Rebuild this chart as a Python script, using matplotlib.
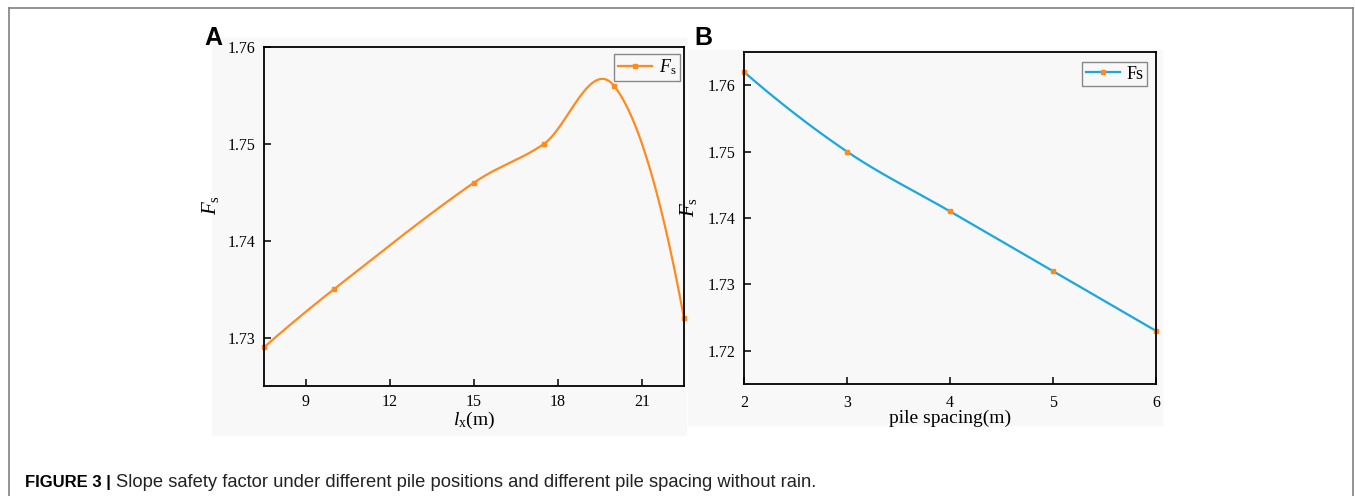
import numpy as np
import matplotlib.pyplot as plt
from matplotlib.patches import Rectangle
from matplotlib.lines import Line2D

# pile position l_x (m) vs safety factor
lx = [7.5, 10, 15, 17.5, 20, 22.5]
fs_lx = [1.729, 1.735, 1.746, 1.750, 1.756, 1.732]

# pile spacing (m) vs safety factor
spacing = [2, 3, 4, 5, 6]
fs_sp = [1.762, 1.750, 1.741, 1.732, 1.723]

caption_bold = 'FIGURE 3 |'
caption_text = 'Slope safety factor under different pile positions and different pile spacing without rain.'


def smooth_curve(x, y, n=400):
    # cubic hermite curve through the points (catmull-rom style slopes)
    x = np.asarray(x, float)
    y = np.asarray(y, float)
    sec = np.diff(y) / np.diff(x)
    m = np.zeros(len(x))
    m[1:-1] = (y[2:] - y[:-2]) / (x[2:] - x[:-2])
    m[0] = 2 * sec[0] - m[1]
    m[-1] = 2 * sec[-1] - m[-2]
    xs = np.linspace(x[0], x[-1], n)
    i = np.clip(np.searchsorted(x, xs) - 1, 0, len(x) - 2)
    h = x[i + 1] - x[i]
    t = (xs - x[i]) / h
    h00 = 2 * t ** 3 - 3 * t ** 2 + 1
    h10 = t ** 3 - 2 * t ** 2 + t
    h01 = -2 * t ** 3 + 3 * t ** 2
    h11 = t ** 3 - t ** 2
    ys = h00 * y[i] + h10 * h * m[i] + h01 * y[i + 1] + h11 * h * m[i + 1]
    return xs, ys


plt.rcParams['font.family'] = 'Liberation Serif'
plt.rcParams['mathtext.fontset'] = 'custom'
plt.rcParams['mathtext.rm'] = 'Liberation Serif'
plt.rcParams['mathtext.it'] = 'Liberation Serif:italic'

W, H = 1355, 496
fig = plt.figure(figsize=(W / 100, H / 100), dpi=100)

# outer frame of the figure box
frame_kw = dict(color='#808080', lw=1.2, transform=fig.transFigure)
fig.add_artist(Line2D([9 / W, 9 / W], [0, 1 - 8 / H], **frame_kw))
fig.add_artist(Line2D([9 / W, 1353 / W], [1 - 8 / H, 1 - 8 / H], **frame_kw))
fig.add_artist(Line2D([1353 / W, 1353 / W], [0, 1 - 8 / H], **frame_kw))

# light gray panel backgrounds
fig.add_artist(Rectangle((212 / W, 1 - 435 / H), 474 / W, 397 / H,
                         transform=fig.transFigure, color='#f8f8f8', zorder=0))
fig.add_artist(Rectangle((688 / W, 1 - 425 / H), 474 / W, 375 / H,
                         transform=fig.transFigure, color='#f8f8f8', zorder=0))

orange = '#ff8b1f'
blue = '#1aa7e0'
leg_kw = dict(loc='upper right', fontsize=13, handlelength=1.9, fancybox=False,
              edgecolor='#888888', framealpha=1, facecolor='#f8f8f8',
              borderpad=0.2, borderaxespad=0, handletextpad=0.35)


def style_axes(ax):
    ax.set_facecolor('#f8f8f8')
    for s in ax.spines.values():
        s.set_linewidth(1.3)
    ax.tick_params(direction='in', length=5, width=1.1, labelsize=11.5, pad=6)


# panel A
axA = fig.add_axes([264 / W, 1 - 386 / H, 420 / W, 339 / H])
style_axes(axA)
xs, ys = smooth_curve(lx, fs_lx)
axA.plot(xs, ys, color=orange, lw=1.6)
axA.plot(lx, fs_lx, 's', color=orange, ms=3.5, clip_on=False)
axA.plot([], [], '-s', color=orange, lw=1.6, ms=3.5, label=r'$F_{\mathrm{s}}$')
axA.set_xlim(7.5, 22.5)
axA.set_ylim(1.725, 1.76)
axA.set_xticks([9, 12, 15, 18, 21])
axA.set_yticks([1.73, 1.74, 1.75, 1.76])
axA.set_yticklabels(['1.73', '1.74', '1.75', '1.76'])
axA.set_xlabel(r'$l_{\mathrm{x}}$(m)', fontsize=14, labelpad=0)
axA.set_ylabel(r'$F_{\mathrm{s}}$', fontsize=15)
axA.yaxis.set_label_coords(-0.102, 0.534)
legA = axA.legend(bbox_to_anchor=(0.990, 0.979), **leg_kw)
legA.get_frame().set_linewidth(1.0)

# panel B
axB = fig.add_axes([744 / W, 1 - 384 / H, 412 / W, 332 / H])
style_axes(axB)
xs, ys = smooth_curve(spacing, fs_sp)
axB.plot(xs, ys, color=blue, lw=1.6)
axB.plot(spacing, fs_sp, 's', color=orange, ms=3.5, clip_on=False)
axB.plot([], [], '-s', color=blue, mfc=orange, mec=orange, lw=1.6, ms=3.5, label='Fs')
axB.set_xlim(2, 6)
axB.set_ylim(1.715, 1.765)
axB.set_xticks([2, 3, 4, 5, 6])
axB.set_yticks([1.72, 1.73, 1.74, 1.75, 1.76])
axB.set_yticklabels(['1.72', '1.73', '1.74', '1.75', '1.76'])
axB.tick_params(axis='x', pad=8)
axB.set_xlabel('pile spacing(m)', fontsize=14, labelpad=-1)
axB.set_ylabel(r'$F_{\mathrm{s}}$', fontsize=15)
axB.yaxis.set_label_coords(-0.109, 0.533)
legB = axB.legend(bbox_to_anchor=(0.978, 0.970), **leg_kw)
legB.get_frame().set_linewidth(1.0)

# panel letters
fig.text(204 / W, 1 - 45 / H, 'A', family='Liberation Sans', weight='bold', fontsize=18)
fig.text(694 / W, 1 - 45 / H, 'B', family='Liberation Sans', weight='bold', fontsize=18)

# caption
t = fig.text(25 / W, 1 - 487 / H, caption_bold + ' ', family='Liberation Sans',
             weight='bold', fontsize=12)
fig.canvas.draw()
bb = t.get_window_extent()
fig.text(bb.x1 / W, 1 - 487 / H, caption_text, family='Liberation Sans', fontsize=13.2,
         color='#222222')

fig.savefig('out.png', dpi=100)
